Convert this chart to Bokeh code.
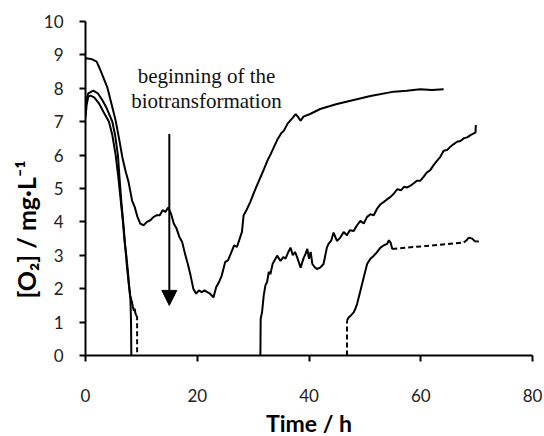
from bokeh.plotting import figure
from bokeh.models import Arrow, NormalHead, Title, FixedTicker
from bokeh.core.properties import value
from bokeh.embed import file_html
from bokeh.resources import INLINE

# ---------------- data ----------------
# Run A: starts at 8.9 mg/L, all solid
run_a_t = [0, 1, 2, 2.7, 3.9, 4.7, 5.4, 6.0, 6.6, 7.2, 7.7, 8.35, 8.8, 9.3, 9.8, 10.4, 11, 11.6,
           12.2, 12.8, 13.3, 13.8, 14.3, 14.8, 15.3, 15.8, 16.3, 16.8, 17.3, 17.8, 18.3, 18.8,
           19.3, 19.8, 20.3, 20.8, 21.3, 21.8, 22.3, 22.9, 23.4, 23.9, 24.4, 25.0, 25.5, 26.0,
           26.6, 27.1, 27.6, 28.0, 28.3, 28.8, 29.5, 30.2, 31.3, 32.0, 32.6, 33.2, 33.7, 34.3,
           35.0, 35.5, 36.2, 37.0, 37.6, 38.0, 38.5, 39.0, 40.2, 42, 45, 48, 51, 55.2, 57.5,
           59.9, 62, 64.1]
run_a_o2 = [8.9, 8.88, 8.8, 8.53, 8.03, 7.5, 7.03, 6.5, 5.93, 5.5, 5.2, 4.63, 4.45, 4.15, 3.95,
            3.9, 4.0, 4.05, 4.15, 4.2, 4.2, 4.35, 4.3, 4.43, 4.25, 3.95, 3.8, 3.55, 3.4, 3.05,
            2.75, 2.4, 2.0, 1.85, 1.95, 1.9, 1.95, 1.9, 1.85, 1.74, 2.05, 2.2, 2.4, 2.8, 2.85,
            3.05, 3.3, 3.25, 3.5, 3.7, 4.2, 4.35, 4.6, 4.9, 5.33, 5.6, 5.85, 6.05, 6.23, 6.45,
            6.65, 6.73, 6.95, 7.1, 7.23, 7.15, 7.03, 7.15, 7.23, 7.38, 7.53, 7.65, 7.77, 7.9,
            7.93, 7.97, 7.95, 7.97]

# Run B: starts at 7.1, drops to 0 at ~8.2 h, recovers from ~31.3 h (solid)
run_b1_t = [0, 0.2, 0.5, 0.9, 1.6, 2.4, 3.2, 4.2, 4.8, 5.4, 5.9, 6.3, 6.7, 7.0, 7.3, 7.6, 7.85,
            8.05, 8.15, 8.2]
run_b1_o2 = [7.13, 7.5, 7.75, 7.78, 7.72, 7.55, 7.3, 7.0, 6.6, 6.0, 5.3, 4.65, 4.0, 3.4, 3.0,
             2.5, 2.0, 1.65, 1.0, 0.0]
run_b2_t = [31.3, 31.35, 31.6, 31.9, 32.2, 32.5, 32.8, 33.1, 33.5, 34.0, 34.3, 34.9, 35.4,
            35.8, 36.3, 36.7, 37.1, 37.5, 37.9, 38.5, 39.0, 39.4, 39.7, 40.0, 40.3, 40.6,
            41.0, 41.4, 42.0, 42.6, 43.2, 43.5, 44.0, 44.4, 45.0, 45.6, 46.2, 46.8, 47.3,
            48.0, 48.6, 49.2, 49.8, 50.4, 51.0, 51.6, 52.2, 52.8, 53.4, 54.0, 54.6, 55.2,
            55.8, 56.5, 57.0, 57.5, 58.1, 58.7, 59.3, 59.9, 60.5, 61.1, 61.7, 62.3, 62.9,
            63.5, 64.1, 64.7, 65.3, 65.9, 66.5, 67.1, 67.7, 68.3, 68.9, 69.5, 69.8, 69.85]
run_b2_o2 = [0.0, 1.1, 1.3, 1.8, 2.1, 2.2, 2.5, 2.44, 2.75, 2.9, 2.99, 2.83, 2.95, 2.9, 3.1,
             3.23, 3.0, 3.1, 2.93, 2.63, 2.9, 3.05, 3.19, 2.9, 3.1, 2.74, 2.65, 2.59, 2.63,
             2.74, 3.23, 3.34, 3.45, 3.68, 3.43, 3.53, 3.7, 3.6, 3.75, 3.73, 3.9, 4.03, 3.95,
             4.15, 4.23, 4.2, 4.4, 4.53, 4.6, 4.68, 4.75, 4.85, 4.98, 4.95, 5.05, 5.03, 5.08,
             5.15, 5.23, 5.23, 5.35, 5.48, 5.55, 5.7, 5.83, 5.95, 6.13, 6.15, 6.25, 6.33,
             6.4, 6.42, 6.5, 6.53, 6.6, 6.65, 6.68, 6.9]

# Run C: peak 7.9, measured (solid) and bridged / extrapolated (dashed) parts
run_c1_t = [0, 0.5, 1.4, 2.2, 3.0, 3.8, 4.8, 5.3, 5.8, 6.1, 6.4, 6.8, 7.1, 7.4, 7.7, 8.0,
            8.3, 8.5, 8.65, 8.8, 8.95, 9.1]
run_c1_o2 = [7.55, 7.85, 7.93, 7.85, 7.65, 7.4, 7.0, 6.6, 6.0, 5.3, 4.63, 3.9, 3.3, 2.7,
             2.2, 1.8, 1.6, 1.45, 1.34, 1.4, 1.25, 1.2]
run_c1d_t = [9.1, 9.24, 9.24]
run_c1d_o2 = [1.2, 1.14, 0.0]
run_c2d_t = [46.8, 46.8]
run_c2d_o2 = [0.0, 1.04]
run_c2_t = [46.8, 47.1, 47.5, 48.0, 48.3, 48.6, 49.2, 49.8, 50.4, 51.0, 51.6, 52.2, 52.8,
            53.4, 54.0, 54.3, 54.6, 54.9]
run_c2_o2 = [1.04, 1.14, 1.2, 1.29, 1.4, 1.54, 1.94, 2.34, 2.74, 2.9, 2.99, 3.1, 3.23, 3.3,
             3.34, 3.45, 3.38, 3.19]
run_c3d_t = [54.9, 67.7]
run_c3d_o2 = [3.19, 3.38]
run_c3_t = [67.7, 68.2, 68.6, 69.2, 69.7, 70.4]
run_c3_o2 = [3.38, 3.45, 3.53, 3.5, 3.42, 3.41]

# annotation
arrow_t = 15.0
arrow_top = 6.63
arrow_tip = 1.5
note_lines = ["beginning of the", "biotransformation"]

x_ticks = [0, 20, 40, 60, 80]
y_ticks = list(range(0, 11))

# ---------------- figure ----------------
p = figure(frame_width=447, frame_height=334, x_range=(0, 80), y_range=(0, 10),
           output_backend="svg", toolbar_location=None,
           min_border_left=85, min_border_right=12, min_border_top=21, min_border_bottom=0)
p.outline_line_color = None
p.xgrid.visible = False
p.ygrid.visible = False
p.background_fill_color = "white"
p.border_fill_color = "white"

LW = 2
for t, v in [(run_a_t, run_a_o2), (run_b1_t, run_b1_o2), (run_b2_t, run_b2_o2),
             (run_c1_t, run_c1_o2), (run_c2_t, run_c2_o2), (run_c3_t, run_c3_o2)]:
    p.line(t, v, line_color="black", line_width=LW)
for t, v in [(run_c1d_t, run_c1d_o2), (run_c2d_t, run_c2d_o2), (run_c3d_t, run_c3d_o2)]:
    p.line(t, v, line_color="black", line_width=LW, line_dash="5 3")

p.add_layout(Arrow(end=NormalHead(size=15, fill_color="black", line_color="black"),
                   x_start=arrow_t, y_start=arrow_top, x_end=arrow_t, y_end=arrow_tip,
                   line_color="black", line_width=LW))

p.text(x=[21.65, 21.65], y=[8.37, 7.63], text=note_lines,
       text_font=value("Liberation Serif"), text_font_size="21px",
       text_align="center", text_baseline="alphabetic", text_color="#111111")

# axes
for ax in (p.xaxis[0], p.yaxis[0]):
    ax.axis_line_color = "black"
    ax.axis_line_width = 2
    ax.major_tick_line_color = "black"
    ax.major_tick_line_width = 2
    ax.major_tick_in = 0
    ax.major_tick_out = 6
    ax.minor_tick_line_color = None
    ax.major_label_text_font = "Lato"
    ax.major_label_text_font_size = "17px"
    ax.major_label_text_color = "#222222"

p.xaxis.ticker = FixedTicker(ticks=x_ticks)
p.yaxis.ticker = FixedTicker(ticks=y_ticks)
p.xaxis.major_label_standoff = 27
p.yaxis.major_label_standoff = 16

p.xaxis.axis_label = "Time / h"
p.xaxis.axis_label_text_font = "Lato"
p.xaxis.axis_label_text_font_style = "bold"
p.xaxis.axis_label_text_font_size = "23px"
p.xaxis.axis_label_text_color = "black"
p.xaxis.axis_label_standoff = 4

p.add_layout(Title(text="[O₂] / mg·L⁻¹", align="left", offset=57,
                   text_font="Lato", text_font_style="bold", text_font_size="25px",
                   text_color="black", standoff=0), "left")

open("out.html", "w").write(file_html(p, INLINE))
